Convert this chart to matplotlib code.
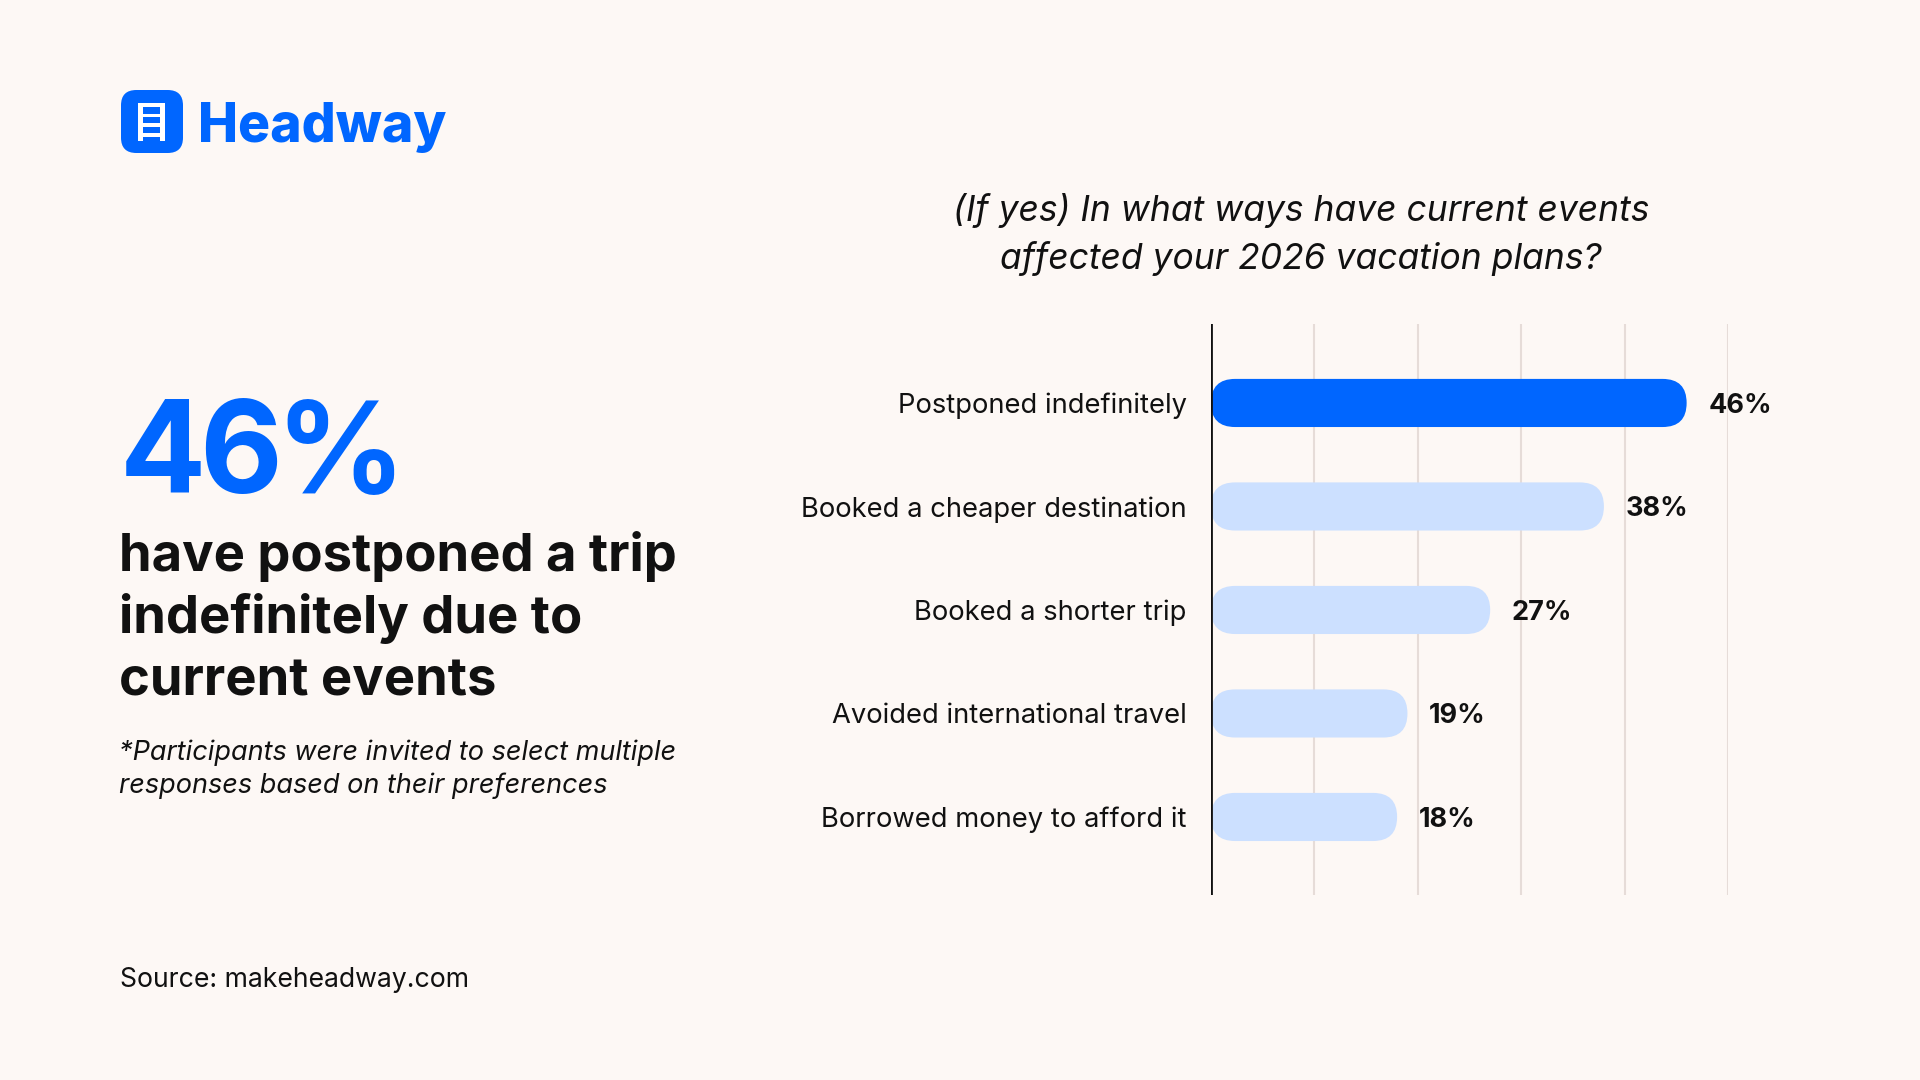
import matplotlib
matplotlib.use("Agg")
import matplotlib.pyplot as plt
from matplotlib.patches import FancyBboxPatch
import numpy as np

# chart data
categories = ["Postponed indefinitely", "Booked a cheaper destination",
              "Booked a shorter trip", "Avoided international travel",
              "Borrowed money to afford it"]
values = [46, 38, 27, 19, 18]
grid_ticks = [10, 20, 30, 40, 50]

title = ["(If yes) In what ways have current events",
         "affected your 2026 vacation plans?"]
headline = ["have postponed a trip", "indefinitely due to", "current events"]
footnote = ["*Participants were invited to select multiple",
            "responses based on their preferences"]
source = "Source: makeheadway.com"

BG = "#fdf8f5"
BLUE = "#0066ff"
LIGHT = "#cce0ff"
GRID = "#e6dcd8"
INK = "#111111"
FONT = "Inter"

W, H = 1920, 1080
fig = plt.figure(figsize=(W / 100, H / 100), dpi=100, facecolor=BG)


def px(x, y):
    # pixel position (from top-left) -> figure fraction
    return x / W, 1 - y / H


# ---- bar chart
ax_l, ax_r, ax_t, ax_b = 1211, 1728, 324, 895
ax = fig.add_axes([ax_l / W, 1 - ax_b / H, (ax_r - ax_l) / W, (ax_b - ax_t) / H])
ax.set_facecolor(BG)
ylo, yhi = -0.763, len(categories) - 1 + 0.754
ax.set_xlim(0, 50)
ax.set_ylim(yhi, ylo)

ypos = np.arange(len(categories))
bar_h = 0.465
colors = [BLUE] + [LIGHT] * (len(values) - 1)
bars = ax.barh(ypos, values, height=bar_h, color=colors)

# swap plain bars for capsule shapes
px_per_x = (ax_r - ax_l) / 50
px_per_y = (ax_b - ax_t) / (yhi - ylo)
aspect = px_per_x / px_per_y
for b in bars:
    x0, y0, w, h = b.get_x(), b.get_y(), b.get_width(), b.get_height()
    b.remove()
    r = h / aspect / 2
    ax.add_patch(FancyBboxPatch((x0, y0), w, h,
                                boxstyle=f"round,pad=0,rounding_size={r}",
                                mutation_aspect=aspect, fc=b.get_facecolor(),
                                ec="none", zorder=3))

for xv in grid_ticks:
    ax.axvline(xv, color=GRID, lw=1.5, zorder=1)
ax.axvline(0, color=INK, lw=2, zorder=4)

for y, v, c in zip(ypos, values, categories):
    ax.text(v + 2.1, y, f"{v}%", ha="left", va="center_baseline", fontsize=19.5,
            fontweight="bold", family=FONT, color=INK)
    ax.text(-2.35, y, c, ha="right", va="center_baseline", fontsize=19.7,
            family=FONT, color=INK)

for s in ax.spines.values():
    s.set_visible(False)
ax.set_xticks([])
ax.set_yticks([])

# ---- chart title
for line, base in zip(title, [221, 269]):
    fig.text(*px(1301, base), line, ha="center", va="baseline", fontsize=25.5,
             style="italic", family=FONT, color=INK)

# ---- logo
icon = FancyBboxPatch(px(121, 153), 62 / W, 63 / H,
                      boxstyle="round,pad=0,rounding_size=0.008",
                      mutation_aspect=W / H, transform=fig.transFigure,
                      fc=BLUE, ec="none")
fig.add_artist(icon)
for rx in (138, 160):
    fig.add_artist(plt.Rectangle(px(rx, 141), 4.5 / W, 38 / H,
                                 transform=fig.transFigure, fc="white", ec="none"))
for ry in (104, 114, 124, 134):
    fig.add_artist(plt.Rectangle(px(138, ry + 3), 26 / W, 3.5 / H,
                                 transform=fig.transFigure, fc="white", ec="none"))
fig.text(*px(198, 142), "Headway", ha="left", va="baseline", fontsize=38.5,
         fontweight=800, family=FONT, color=BLUE)

# ---- headline block: big number, set with tight tracking
renderer = fig.canvas.get_renderer()
cx = 120
for ch in f"{values[0]}%":
    t = fig.text(*px(cx, 493), ch, ha="left", va="baseline", fontsize=92,
                 fontweight="bold", family=FONT, color=BLUE)
    cx = t.get_window_extent(renderer).x1 - 7

for line, base in zip(headline, [571, 633, 695]):
    fig.text(*px(119, base), line, ha="left", va="baseline", fontsize=37.8,
             fontweight="bold", family=FONT, color=INK)
for line, base in zip(footnote, [760, 793]):
    fig.text(*px(119, base), line, ha="left", va="baseline", fontsize=19.5,
             style="italic", family=FONT, color=INK)

fig.text(*px(120, 987), source, ha="left", va="baseline", fontsize=19.2,
         family=FONT, color=INK)

fig.savefig("out.png", dpi=100, facecolor=BG)
